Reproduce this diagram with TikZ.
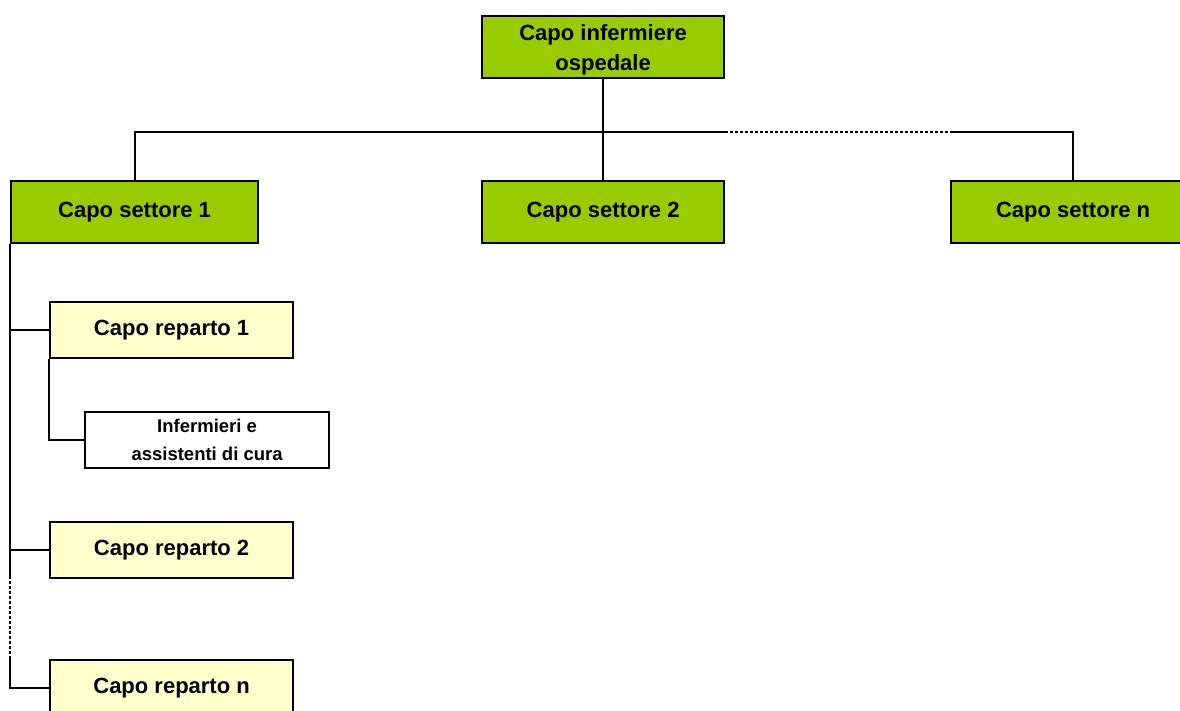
\documentclass[tikz,border=0pt]{standalone}
\usepackage{fontspec}
\setmainfont{Liberation Sans}
\definecolor{leafgreen}{HTML}{99CC00}
\definecolor{paleyellow}{HTML}{FFFFCC}
\begin{document}
\begin{tikzpicture}[x=1pt,y=-1pt,
  box/.style={draw=black, line width=2.2pt, minimum height=62pt, minimum width=244pt,
    inner sep=0pt, anchor=north west, align=center, font=\fontsize{22}{30}\selectfont\bfseries},
  greenbox/.style={box, fill=leafgreen},
  yellowbox/.style={box, fill=paleyellow, minimum height=56pt},
  whitebox/.style={box, fill=white, minimum height=56pt, font=\fontsize{18.5}{28}\selectfont\bfseries},
  link/.style={line width=2.2pt},
  dotlink/.style={line width=2.2pt, dash pattern=on 3pt off 2pt}]
\useasboundingbox (0,0) rectangle (1180,711);
\fill[white] (0,0) rectangle (1180,711);
% nodes
\node[greenbox, minimum width=242pt] (top) at (481,15) {\raisebox{-3pt}[\height][\depth]{\parbox{240pt}{\centering Capo infermiere\\ospedale}}};
\node[greenbox, minimum width=247pt] (s1) at (10,180) {Capo settore 1};
\node[greenbox, minimum width=242pt] (s2) at (481,180) {Capo settore 2};
\node[greenbox] (sN) at (950,180) {Capo settore n};
\node[yellowbox, minimum width=243pt] (r1) at (49,301) {Capo reparto 1};
\node[whitebox] (inf) at (84,411) {Infermieri e\\assistenti di cura};
\node[yellowbox, minimum width=243pt] (r2) at (49,521) {Capo reparto 2};
\node[yellowbox, minimum width=243pt] (rN) at (49,659) {Capo reparto n};
% coordinates for the bus lines
\coordinate (hl) at (135,132);
\coordinate (d1) at (725,132);
\coordinate (d2) at (950,132);
\coordinate (v1) at (10,576);
\coordinate (v2) at (10,658);
% top level connectors
\draw[link] (top.south) -- (s2.north);
\draw[link] (s1.north -| hl) -- (hl) -- (d1);
\draw[dotlink] (d1) -- (d2);
\draw[link] (d2) -- (sN.north |- d2) -- (sN.north);
% left side
\draw[link] (s1.south west) -- (v1);
\draw[dotlink] (v1) -- (v2);
\draw[link] (v2) -- (rN.west -| v2) -- (rN.west);
\draw[link] (r1.west -| s1.south west) -- (r1.west);
\draw[link] (r2.west -| s1.south west) -- (r2.west);
\draw[link] (r1.south west) -- (inf.west -| r1.south west) -- (inf.west);
\end{tikzpicture}
\end{document}
